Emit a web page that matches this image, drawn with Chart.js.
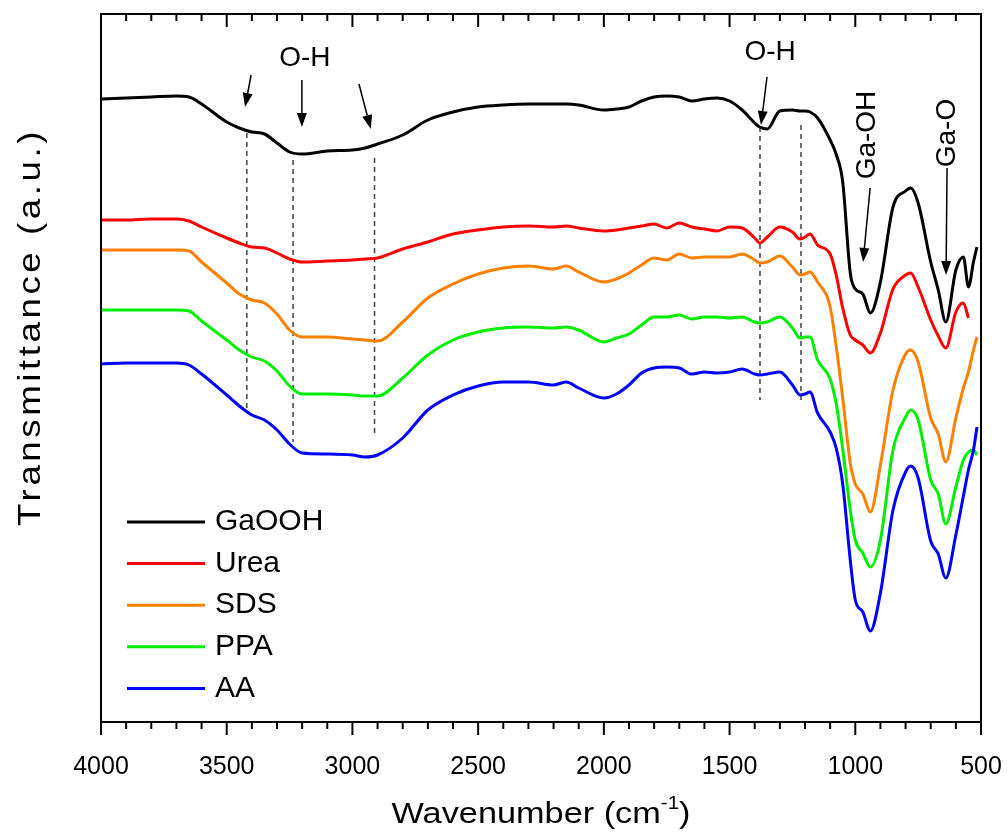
<!DOCTYPE html>
<html>
<head>
<meta charset="utf-8">
<title>FTIR GaOOH</title>
<script src="https://cdn.jsdelivr.net/npm/chart.js@4.4.1/dist/chart.umd.min.js"></script>
<style>
  body { margin: 0; background: #fff; }
  canvas { display: block; }
</style>
</head>
<body>
<canvas id="ftir" width="1007" height="834"></canvas>
<script>
// wavenumber grid (cm-1)
const wavenumber = [4000, 3900, 3800, 3700, 3650, 3600, 3500, 3450, 3400, 3350, 3300, 3250, 3200, 3100, 3000, 2950, 2900,
  2800, 2700, 2600, 2500, 2400, 2300, 2200, 2150, 2100, 2000, 1950, 1900, 1850, 1800, 1750, 1700, 1650, 1600, 1550, 1500,
  1450, 1400, 1380, 1350, 1300, 1250, 1220, 1200, 1180, 1150, 1100, 1075, 1050, 1020, 1000, 970, 940, 900, 850, 800, 780,
  750, 700, 670, 640, 600, 570, 550, 530, 516];

// transmittance, arbitrary units (curves offset as in the figure)
const gaooh = [623, 624, 625, 626, 625, 618, 600, 594, 590, 588, 579, 570, 568, 571, 572, 574, 578,
  587, 602, 610, 615, 617, 618, 618, 618, 617, 612, 613, 615, 621, 625, 626, 625, 621, 623, 624, 621,
  612, 599, 595, 593, 611, 612, 611, 611, 610, 604, 582, 567, 540, 449, 433, 428, 409, 440, 515, 531, 534,
  519, 460, 432, 400, 452, 465, 435, 460, 475];
const urea = [502, 502, 503, 503, 501, 495, 484, 479, 475, 474, 469, 463, 460, 461, 462, 463, 464,
  473, 480, 488, 492, 495, 496, 495, 496, 494, 491, 492, 494, 496, 498, 494, 499, 495, 493, 491, 495,
  494, 484, 479, 485, 495, 490, 483, 485, 488, 477, 468, 446, 414, 387, 382, 377, 369, 389, 433, 447, 449,
  435, 402, 386, 374, 410, 419, 404, null, null];
const sds = [472, 472, 472, 472, 471, 460, 439, 428, 422, 419, 408, 392, 385, 385, 383, 382, 381,
  400, 424, 438, 448, 454, 456, 453, 456, 450, 440, 443, 449, 457, 464, 462, 468, 464, 465, 465, 465,
  468, 462, 459, 460, 466, 455, 447, 448, 450, 440, 415, 374, 324, 259, 238, 228, 210, 257, 332, 368, 372,
  360, 304, 288, 260, 304, 334, 350, 372, 385];
const ppa = [412, 412, 412, 412, 411, 401, 382, 372, 365, 361, 351, 336, 328, 328, 327, 326, 326,
  344, 367, 382, 390, 394, 395, 394, 395, 392, 380, 384, 388, 397, 405, 405, 407, 403, 405, 405, 404,
  405, 400, 399, 400, 405, 394, 384, 385, 385, 362, 343, 317, 273, 212, 182, 169, 155, 182, 272, 305, 312,
  302, 242, 228, 198, 235, 262, 270, 272, 267];
const aa = [358, 359, 359, 359, 357, 348, 327, 316, 307, 302, 292, 278, 269, 268, 267, 265, 267,
  284, 312, 327, 336, 340, 340, 337, 340, 334, 324, 328, 337, 349, 354, 355, 354, 348, 350, 349, 350,
  353, 348, 347, 348, 350, 337, 327, 328, 330, 309, 290, 273, 238, 162, 122, 110, 91, 129, 212, 250, 256,
  244, 181, 168, 144, 187, 226, 252, 272, 295];

const seriesNames = ["GaOOH", "Urea", "SDS", "PPA", "AA"];
const seriesValues = [gaooh, urea, sds, ppa, aa];
const seriesColors = ["#000000", "#ff0000", "#ff8000", "#00ee00", "#0000ff"];
const xTicks = [4000, 3500, 3000, 2500, 2000, 1500, 1000, 500];

// dashed guide lines and arrows (wavenumber, a.u.)
const guideLines = [
  { wn: 3420, from: 589, to: 309 },
  { wn: 3236, from: 562, to: 280 },
  { wn: 2912, from: 564, to: 285 },
  { wn: 1379, from: 595, to: 322 },
  { wn: 1216, from: 597, to: 319 },
];
const arrows = [
  { x1: 3403, y1: 647, x2: 3427, y2: 615 },
  { x1: 3201, y1: 642, x2: 3201, y2: 595 },
  { x1: 2974, y1: 638, x2: 2927, y2: 593 },
  { x1: 1351, y1: 645, x2: 1375, y2: 597 },
  { x1: 941, y1: 534, x2: 969, y2: 460 },
  { x1: 635, y1: 554, x2: 639, y2: 447 },
];
const labels = [
  { text: "O-H", wn: 3189, y: 664, rot: 0 },
  { text: "O-H", wn: 1339, y: 670, rot: 0 },
  { text: "Ga-OH", wn: 953, y: 587, rot: -Math.PI / 2 },
  { text: "Ga-O", wn: 635, y: 589, rot: -Math.PI / 2 },
];

const FONT = "'Liberation Sans', Arial, sans-serif";

function drawArrow(ctx, x1, y1, x2, y2) {
  const ang = Math.atan2(y2 - y1, x2 - x1);
  const len = 14, half = 5;
  const bx = x2 - len * Math.cos(ang), by = y2 - len * Math.sin(ang);
  ctx.beginPath();
  ctx.moveTo(x1, y1);
  ctx.lineTo(bx, by);
  ctx.stroke();
  ctx.beginPath();
  ctx.moveTo(x2, y2);
  ctx.lineTo(bx + half * Math.sin(ang), by - half * Math.cos(ang));
  ctx.lineTo(bx - half * Math.sin(ang), by + half * Math.cos(ang));
  ctx.closePath();
  ctx.fill();
}

const decorPlugin = {
  id: "decor",
  beforeDatasetsDraw(chart) {
    const { ctx, scales: { x, y } } = chart;
    ctx.save();
    ctx.strokeStyle = "#444";
    ctx.lineWidth = 1.5;
    ctx.setLineDash([5, 4]);
    guideLines.forEach((g) => {
      const px = x.getPixelForValue(g.wn);
      ctx.beginPath();
      ctx.moveTo(px, y.getPixelForValue(g.from));
      ctx.lineTo(px, y.getPixelForValue(g.to));
      ctx.stroke();
    });
    ctx.restore();
  },
  afterDatasetsDraw(chart) {
    const { ctx, chartArea: a, scales: { x, y } } = chart;
    ctx.save();

    // arrows
    ctx.strokeStyle = "#000";
    ctx.fillStyle = "#000";
    ctx.lineWidth = 1.5;
    arrows.forEach((ar) => {
      drawArrow(ctx, x.getPixelForValue(ar.x1), y.getPixelForValue(ar.y1),
        x.getPixelForValue(ar.x2), y.getPixelForValue(ar.y2));
    });

    // band labels
    ctx.font = "28px " + FONT;
    ctx.textAlign = "center";
    ctx.textBaseline = "middle";
    labels.forEach((l) => {
      ctx.save();
      ctx.translate(x.getPixelForValue(l.wn), y.getPixelForValue(l.y));
      ctx.rotate(l.rot);
      ctx.fillText(l.text, 0, 0);
      ctx.restore();
    });

    // frame with minor/major ticks (bottom outward, top inward)
    ctx.lineWidth = 2;
    ctx.strokeRect(a.left, a.top, a.right - a.left, a.bottom - a.top);
    for (let w = 500; w <= 4000; w += 100) {
      const px = x.getPixelForValue(w);
      const len = w % 500 === 0 ? 13 : 7;
      ctx.beginPath();
      ctx.moveTo(px, a.bottom);
      ctx.lineTo(px, a.bottom + len);
      ctx.moveTo(px, a.top);
      ctx.lineTo(px, a.top + len);
      ctx.stroke();
    }

    // legend
    ctx.font = "30px " + FONT;
    ctx.textAlign = "left";
    chart.data.datasets.forEach((ds, i) => {
      const ly = a.top + 508 + i * 41.6;
      ctx.strokeStyle = ds.borderColor;
      ctx.lineWidth = 3;
      ctx.beginPath();
      ctx.moveTo(a.left + 26, ly);
      ctx.lineTo(a.left + 104, ly);
      ctx.stroke();
      ctx.fillStyle = "#000";
      ctx.fillText(ds.label, a.left + 114, ly);
    });

    // axis titles (the original's titles are drawn wide, so stretch them a little)
    ctx.fillStyle = "#000";
    ctx.textBaseline = "alphabetic";
    const xt = "Wavenumber (cm", xs = "-1", xe = ")";
    ctx.font = "30px " + FONT;
    const w1 = ctx.measureText(xt).width, w3 = ctx.measureText(xe).width;
    ctx.font = "18px " + FONT;
    const w2 = ctx.measureText(xs).width;
    const sx = 299 / (w1 + w2 + w3);
    ctx.save();
    ctx.translate((a.left + a.right) / 2, 823);
    ctx.scale(sx, 1);
    let cx = -(w1 + w2 + w3) / 2;
    ctx.textAlign = "left";
    ctx.font = "30px " + FONT;
    ctx.fillText(xt, cx, 0);
    cx += w1;
    ctx.font = "18px " + FONT;
    ctx.fillText(xs, cx, -14);
    cx += w2;
    ctx.font = "30px " + FONT;
    ctx.fillText(xe, cx, 0);
    ctx.restore();

    const yt = "Transmittance (a.u.)";
    ctx.font = "31px " + FONT;
    ctx.letterSpacing = "3px";
    const wy = ctx.measureText(yt).width;
    ctx.save();
    ctx.translate(40, 327);
    ctx.rotate(-Math.PI / 2);
    ctx.scale(398 / wy, 1);
    ctx.textAlign = "center";
    ctx.fillText(yt, 0, 0);
    ctx.restore();
    ctx.letterSpacing = "0px";

    ctx.restore();
  },
};

const datasets = seriesNames.map((name, i) => ({
  label: name,
  data: wavenumber.map((w, j) => ({ x: w, y: seriesValues[i][j] })),
  borderColor: seriesColors[i],
  borderWidth: 3,
  pointRadius: 0,
  fill: false,
  cubicInterpolationMode: "monotone",
  spanGaps: false,
  order: seriesNames.length - 1 - i,
}));

new Chart(document.getElementById("ftir"), {
  type: "line",
  data: { datasets },
  options: {
    responsive: false,
    animation: false,
    events: [],
    layout: { padding: { top: 14, right: 26, bottom: 0, left: 0 } },
    plugins: { legend: { display: false }, tooltip: { enabled: false } },
    scales: {
      x: {
        type: "linear",
        reverse: true,
        min: 500,
        max: 4000,
        afterBuildTicks: (scale) => { scale.ticks = xTicks.map((v) => ({ value: v })); },
        afterFit: (scale) => {
          scale.height = 112;
          scale.paddingLeft = 0;
          scale.paddingRight = 0;
        },
        grid: { display: false },
        border: { display: false },
        ticks: {
          color: "#000",
          font: { family: FONT, size: 25 },
          padding: 22,
          maxRotation: 0,
          autoSkip: false,
          callback: (v) => String(v),
        },
        title: { display: false, text: "Wavenumber (cm-1)" },
      },
      y: {
        min: 0,
        max: 708,
        afterFit: (scale) => { scale.width = 101; },
        grid: { display: false },
        border: { display: false },
        ticks: { display: false },
        title: { display: false, text: "Transmittance (a.u.)" },
      },
    },
  },
  plugins: [decorPlugin],
});
</script>
</body>
</html>
